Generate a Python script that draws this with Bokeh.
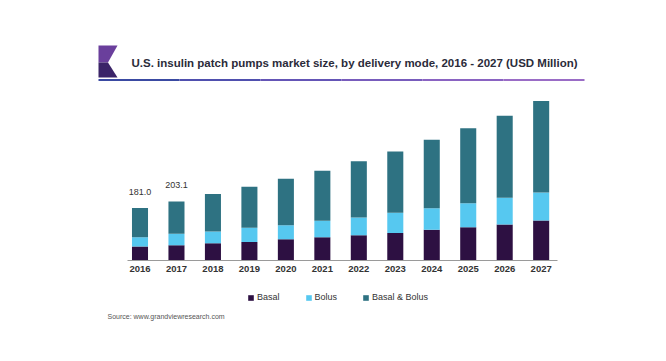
from bokeh.plotting import figure
from bokeh.models import (Range1d, FixedTicker, Legend, LegendItem,
                          ColumnDataSource)
from bokeh.core.properties import value
from bokeh.embed import file_html
from bokeh.resources import INLINE

years = [2016, 2017, 2018, 2019, 2020, 2021, 2022, 2023, 2024, 2025, 2026, 2027]
basal = [48, 52.7, 59.5, 64, 73, 80, 87, 95, 105.6, 114.6, 124, 137.6]
bolus = [32, 39, 40, 49, 48, 56.5, 61, 69, 74, 82.6, 92, 96]
basal_bolus = [101, 111.4, 129.5, 140.5, 160, 172, 193.6, 211, 236, 258, 282, 315]
label_years = [2016, 2017]
label_values = ["181.0", "203.1"]
title_text = "U.S. insulin patch pumps market size, by delivery mode, 2016 - 2027 (USD Million)"
source_text = "Source: www.grandviewresearch.com"

series = ["Basal", "Bolus", "Basal & Bolus"]
colors = ["#2d1042", "#56c8f0", "#2e7282"]

src = ColumnDataSource(dict(year=years, Basal=basal, Bolus=bolus,
                            **{"Basal & Bolus": basal_bolus}))

W = 666
FH = 343          # frame height (axis panel below it)
AXIS_Y = 260      # pixel row of the baseline inside the frame
PX_PER_YEAR = 36.47
UNITS_PER_PX = 3.44
x0 = 2016 - 139.5 / PX_PER_YEAR
p = figure(frame_width=W, frame_height=FH, output_backend="svg",
           toolbar_location=None,
           x_range=Range1d(x0, x0 + W / PX_PER_YEAR),
           y_range=Range1d(-(FH - AXIS_Y) * UNITS_PER_PX, AXIS_Y * UNITS_PER_PX),
           min_border_left=0, min_border_right=0, min_border_top=0,
           min_border_bottom=0)
p.extra_x_ranges = {"px": Range1d(0, W)}
p.extra_y_ranges = {"px": Range1d(FH, 0)}
p.outline_line_color = None
p.grid.grid_line_color = None
p.yaxis.visible = False
p.background_fill_color = "white"
p.border_fill_color = "white"

rs = p.vbar_stack(series, x="year", width=0.44, color=colors, source=src,
                  line_color=None)

ax = p.xaxis[0]
ax.fixed_location = 0
ax.ticker = FixedTicker(ticks=years)
ax.bounds = (2016 - 12.8 / PX_PER_YEAR, 2027 + 16.0 / PX_PER_YEAR)
ax.axis_line_color = "#9a9a9a"
ax.axis_line_width = 1
ax.major_tick_line_color = None
ax.major_tick_out = 0
ax.major_tick_in = 0
ax.minor_tick_line_color = None
ax.major_label_text_font = "Liberation Sans"
ax.major_label_text_font_style = "bold"
ax.major_label_text_font_size = "9.5px"
ax.major_label_text_color = "#333333"
ax.major_label_standoff = 5

# value labels on the first two bars
totals = [b + c + d for b, c, d in zip(basal, bolus, basal_bolus)]
lab_src = ColumnDataSource(dict(x=label_years,
                                y=[totals[years.index(y)] for y in label_years],
                                t=label_values))
p.text(x="x", y="y", text="t", source=lab_src, y_offset=-13,
       text_align="center", text_baseline="bottom",
       text_font=value("Liberation Sans"), text_font_size="9px",
       text_color="#333333")

# title and decoration (in pixel-range coordinates)
p.text(x=[131], y=[62], text=[title_text], x_range_name="px", y_range_name="px",
       text_font=value("Liberation Sans"), text_font_style="bold",
       text_font_size="11.5px", text_color="#2b2b3a", text_baseline="middle")
p.patch(x=[98, 117, 107.5, 98], y=[45, 45, 62, 62], x_range_name="px",
        y_range_name="px", fill_color="#6a3f9c", line_color=None)
p.patch(x=[98, 107.5, 117, 98], y=[62, 62, 77, 77], x_range_name="px",
        y_range_name="px", fill_color="#3b2468", line_color=None)
ul_x = [98, 179, 260, 341, 422, 503, 584]
ul_c = ["#3a4aa2", "#4f4fae", "#6455b6", "#785cbc", "#8a63c2", "#9a6cc6"]
p.segment(x0=ul_x[:-1], x1=ul_x[1:], y0=[79.5] * 6, y1=[79.5] * 6,
          x_range_name="px", y_range_name="px", line_color=ul_c, line_width=2)

# legend (inside the frame, below the axis)
legend = Legend(items=[LegendItem(label=s, renderers=[r]) for s, r in zip(series, rs)],
                orientation="horizontal", location=(247, 41),
                glyph_width=7, glyph_height=7, label_text_font="Liberation Sans",
                label_text_font_size="9px", label_text_color="#333333",
                spacing=25, padding=0, margin=0, label_standoff=3,
                border_line_color=None, background_fill_alpha=0)
p.add_layout(legend, "center")

# source note
p.text(x=[107], y=[316], text=[source_text], x_range_name="px", y_range_name="px",
       text_font=value("Liberation Sans"), text_font_size="7px",
       text_color="#555555", text_baseline="middle")

open("out.html", "w").write(file_html(p, INLINE))
